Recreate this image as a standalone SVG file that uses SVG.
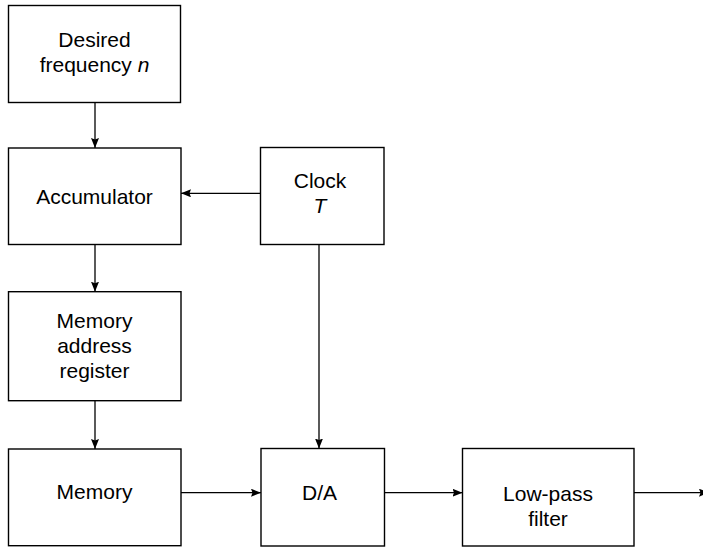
<svg xmlns="http://www.w3.org/2000/svg" width="703" height="549" viewBox="0 0 703 549">
  <style>
    .box { fill: #ffffff; stroke: #000000; stroke-width: 1.4; }
    .lbl { font-family: "Liberation Sans", Arial, Helvetica, sans-serif; font-size: 21px; fill: #000000; text-anchor: middle; }
    .it { font-style: italic; }
    .wire { fill: none; stroke: #000000; stroke-width: 1.3; marker-end: url(#head); }
  </style>
  <defs>
    <marker id="head" markerUnits="userSpaceOnUse" markerWidth="11" markerHeight="9" refX="10" refY="4" orient="auto">
      <path d="M0,0 L10,4 L0,8 L1.5,4 z" fill="#000000"/>
    </marker>
  </defs>
  <rect width="703" height="549" fill="#ffffff"/>

  <g id="connectors">
    <line class="wire" x1="95" y1="102.5" x2="95" y2="148"/>
    <line class="wire" x1="95" y1="244.5" x2="95" y2="291.7"/>
    <line class="wire" x1="95" y1="400.7" x2="95" y2="449"/>
    <line class="wire" x1="260.5" y1="193.3" x2="181" y2="193.3"/>
    <line class="wire" x1="319" y1="244.5" x2="319" y2="448.5"/>
    <line class="wire" x1="181" y1="492.7" x2="261" y2="492.7"/>
    <line class="wire" x1="384.5" y1="492.7" x2="462.5" y2="492.7"/>
    <line class="wire" x1="634" y1="492.7" x2="709" y2="492.7"/>
  </g>

  <g id="desired-frequency">
    <rect class="box" x="8.5" y="5.5" width="172" height="97"/>
    <text class="lbl" x="94.5" y="47.3">Desired</text>
    <text class="lbl" x="94.5" y="72.3">frequency <tspan class="it">n</tspan></text>
  </g>

  <g id="accumulator">
    <rect class="box" x="8.5" y="148" width="172.5" height="96.5"/>
    <text class="lbl" x="94.5" y="204.3">Accumulator</text>
  </g>

  <g id="memory-address-register">
    <rect class="box" x="8.5" y="291.7" width="172.5" height="109"/>
    <text class="lbl" x="94.5" y="327.7">Memory</text>
    <text class="lbl" x="94.5" y="352.7">address</text>
    <text class="lbl" x="94.5" y="378.3">register</text>
  </g>

  <g id="memory">
    <rect class="box" x="8.5" y="449" width="172.5" height="96.7"/>
    <text class="lbl" x="94.5" y="499.3">Memory</text>
  </g>

  <g id="clock">
    <rect class="box" x="260.5" y="147.5" width="123.5" height="97"/>
    <text class="lbl" x="320" y="187.7">Clock</text>
    <text class="lbl it" x="320" y="212.7">T</text>
  </g>

  <g id="d-a">
    <rect class="box" x="261" y="448.5" width="123.5" height="97.5"/>
    <text class="lbl" x="319.5" y="500">D/A</text>
  </g>

  <g id="low-pass-filter">
    <rect class="box" x="462.5" y="448.5" width="171.5" height="97.5"/>
    <text class="lbl" x="548" y="501">Low-pass</text>
    <text class="lbl" x="548" y="526">filter</text>
  </g>
</svg>
